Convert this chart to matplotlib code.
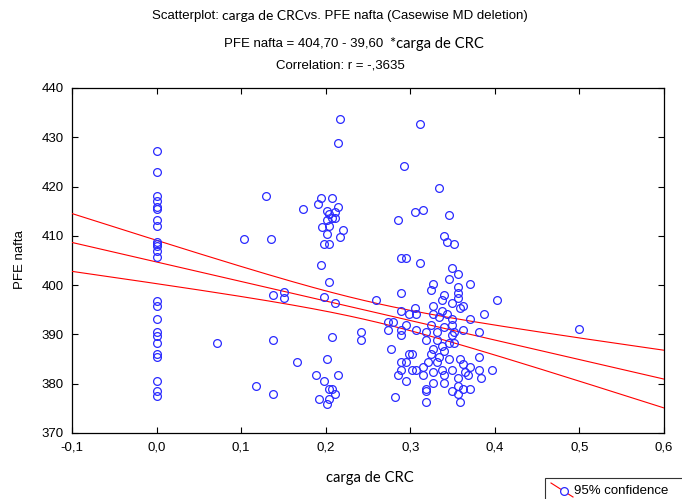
import numpy as np
import matplotlib
matplotlib.use("Agg")
import matplotlib.pyplot as plt
from matplotlib.lines import Line2D
from matplotlib.patches import Rectangle

# valores
x_zero = [0.0] * 24
y_zero = [427.3, 423.0, 418.1, 417.1, 415.9, 415.4, 413.2, 412.1, 408.8, 408.3,
          407.9, 407.0, 405.7, 396.8, 395.8, 393.1, 390.5, 389.7, 388.2, 386.1,
          385.5, 380.6, 378.5, 377.5]

x_low = [0.072, 0.103, 0.118, 0.129, 0.135, 0.138, 0.138, 0.138, 0.151, 0.151, 0.166, 0.173]
y_low = [388.2, 409.4, 379.6, 418.1, 409.4, 398.0, 388.8, 377.9, 398.7, 397.3, 384.4, 415.4]

x_mid = [0.217, 0.214, 0.195, 0.207, 0.191, 0.201, 0.214, 0.211, 0.204, 0.207,
         0.211, 0.201, 0.204, 0.196, 0.220, 0.201, 0.217, 0.198, 0.204, 0.195,
         0.204, 0.198, 0.211, 0.207, 0.242, 0.242, 0.260, 0.201, 0.188, 0.198,
         0.214, 0.204, 0.207, 0.211, 0.192, 0.204, 0.201]
y_mid = [433.8, 428.9, 417.6, 417.6, 416.4, 415.0, 415.9, 414.9, 414.4, 413.7,
         413.7, 413.2, 412.1, 411.7, 411.1, 410.4, 409.8, 408.3, 408.3, 404.0,
         400.7, 397.5, 396.4, 389.4, 390.5, 388.8, 397.0, 385.0, 381.7, 380.6,
         381.7, 379.0, 379.0, 377.9, 376.8, 376.8, 375.8]

x_high = [0.311, 0.293, 0.334, 0.305, 0.315, 0.286, 0.346, 0.340, 0.343, 0.352,
          0.289, 0.295, 0.311, 0.289, 0.349, 0.356, 0.346, 0.327, 0.324, 0.356,
          0.356, 0.371, 0.340, 0.356, 0.403, 0.337, 0.349, 0.327, 0.362, 0.359,
          0.305, 0.289, 0.299, 0.307, 0.337, 0.327, 0.343, 0.387, 0.334, 0.349,
          0.371, 0.274, 0.280, 0.295, 0.324, 0.340, 0.349, 0.362, 0.381, 0.274,
          0.289, 0.307, 0.318, 0.331, 0.352, 0.289, 0.318, 0.331, 0.349, 0.346,
          0.352, 0.337, 0.277, 0.327, 0.340, 0.299, 0.302, 0.324, 0.334, 0.381,
          0.346, 0.359, 0.289, 0.295, 0.321, 0.331, 0.362, 0.371, 0.315, 0.289,
          0.302, 0.307, 0.337, 0.349, 0.365, 0.381, 0.397, 0.286, 0.315, 0.327,
          0.340, 0.356, 0.368, 0.384, 0.295, 0.327, 0.340, 0.318, 0.356, 0.362,
          0.371, 0.318, 0.349, 0.282, 0.356, 0.318, 0.359, 0.500]
y_high = [432.7, 424.1, 419.7, 414.8, 415.3, 413.2, 414.2, 409.9, 408.8, 408.3,
          405.6, 405.6, 404.5, 398.5, 403.4, 402.3, 401.2, 400.2, 399.1, 399.6,
          398.5, 400.2, 398.0, 397.4, 396.9, 396.9, 396.4, 395.8, 395.8, 395.3,
          395.3, 394.7, 394.2, 394.2, 394.7, 394.2, 394.2, 394.2, 393.6, 393.1,
          393.1, 392.6, 392.6, 392.0, 392.0, 391.5, 392.0, 390.9, 390.4, 390.9,
          390.9, 390.9, 390.4, 390.4, 390.4, 389.9, 388.8, 388.8, 389.9, 388.2,
          388.2, 387.7, 387.1, 387.1, 386.6, 386.1, 386.1, 386.1, 385.5, 385.5,
          385.0, 385.0, 384.4, 384.4, 384.4, 384.4, 383.9, 383.4, 383.4, 382.8,
          382.8, 382.8, 382.8, 382.8, 382.3, 382.8, 382.8, 381.7, 381.7, 382.3,
          381.7, 381.2, 381.7, 381.2, 380.6, 380.1, 380.1, 379.0, 379.6, 379.0,
          379.0, 378.5, 378.5, 377.4, 377.9, 376.3, 376.3, 391.0]

intercept = 404.70
slope = -39.60

x_ticks = [-0.1, 0.0, 0.1, 0.2, 0.3, 0.4, 0.5, 0.6]
x_ticklabels = ["-0,1", "0,0", "0,1", "0,2", "0,3", "0,4", "0,5", "0,6"]
y_ticks = [370, 380, 390, 400, 410, 420, 430, 440]

x = np.array(x_zero + x_low + x_mid + x_high)
y = np.array(y_zero + y_low + y_mid + y_high)

W, H = 682, 499
fig = plt.figure(figsize=(W / 100, H / 100), dpi=100)
ax = fig.add_axes([72 / W, 1 - 433 / H, (664 - 72) / W, (433 - 88) / H])

ARIAL = "Liberation Sans"
CALIBRI = "Lato"
FS = 9.5

# recta de regresion y banda de confianza 95%
xs = np.linspace(-0.1, 0.6, 200)
fit = intercept + slope * xs
n = len(x)
resid = y - (intercept + slope * x)
s = np.sqrt(np.sum(resid ** 2) / (n - 2))
sxx = np.sum((x - x.mean()) ** 2)
se = s * np.sqrt(1 / n + (xs - x.mean()) ** 2 / sxx)
t = 1.97
ax.plot(xs, fit, color="red", lw=0.8, zorder=3)
ax.plot(xs, fit + t * se, color="red", lw=0.8, zorder=3)
ax.plot(xs, fit - t * se, color="red", lw=0.8, zorder=3)

ax.plot(x, y, linestyle="none", marker="o", ms=5.6, mfc="none",
        mec="#2a2aff", mew=0.9, zorder=4)

ax.set_xlim(-0.1, 0.6)
ax.set_ylim(370, 440)
ax.set_xticks(x_ticks)
ax.set_xticklabels(x_ticklabels)
ax.set_yticks(y_ticks)
ax.tick_params(direction="in", length=4, width=0.8, top=True, right=True,
               labelsize=FS, pad=6)
for lab in ax.get_xticklabels() + ax.get_yticklabels():
    lab.set_fontfamily(ARIAL)
for sp in ax.spines.values():
    sp.set_linewidth(0.9)

fig.text(20 / W, 1 - 260 / H, "PFE nafta", rotation=90, ha="center", va="center",
         fontsize=FS, family=ARIAL)
fig.text(370 / W, 1 - 478 / H, "carga de CRC", ha="center", va="center",
         fontsize=10.6, family=CALIBRI)


def mixed_line(pieces, cx, cy, size=FS):
    # pieces: lista de (texto, familia), centrado en cx
    fig.canvas.draw()
    r = fig.canvas.get_renderer()
    arts = []
    widths = []
    for txt, fam, fs in pieces:
        a = fig.text(0, cy, txt, fontsize=fs, family=fam, va="center", ha="left")
        widths.append(a.get_window_extent(r).width)
        arts.append(a)
    total = sum(widths)
    x0 = cx * W - total / 2
    for a, w in zip(arts, widths):
        a.set_x(x0 / W)
        x0 += w


mixed_line([("Scatterplot: ", ARIAL, FS), ("carga de CRC", CALIBRI, 10),
            ("vs. PFE nafta (Casewise MD deletion)", ARIAL, FS)], 340 / W, 1 - 16 / H)
mixed_line([("PFE nafta = 404,70 - 39,60  ", ARIAL, FS), ("*carga de CRC", CALIBRI, 10.6)],
           354 / W, 1 - 44 / H)
fig.text(340 / W, 1 - 66 / H, "Correlation: r = -,3635", ha="center", va="center",
         fontsize=FS, family=ARIAL)

# leyenda
fig.add_artist(Rectangle((545 / W, -0.05), 0.3, 1 - 478 / H + 0.05,
                         transform=fig.transFigure, fc="white", ec="#333333", lw=0.8))
fig.add_artist(Line2D([551 / W, 573 / W], [1 - 483 / H, 1 - 497 / H],
                      transform=fig.transFigure, color="red", lw=0.8))
fig.add_artist(Line2D([563.5 / W], [1 - 491 / H], transform=fig.transFigure,
                      marker="o", ms=5.6, mfc="white", mec="#2a2aff", mew=0.9))
fig.text(574 / W, 1 - 491 / H, "95% confidence", fontsize=FS, family=ARIAL,
         va="center", ha="left")

fig.savefig("out.png", dpi=100)
